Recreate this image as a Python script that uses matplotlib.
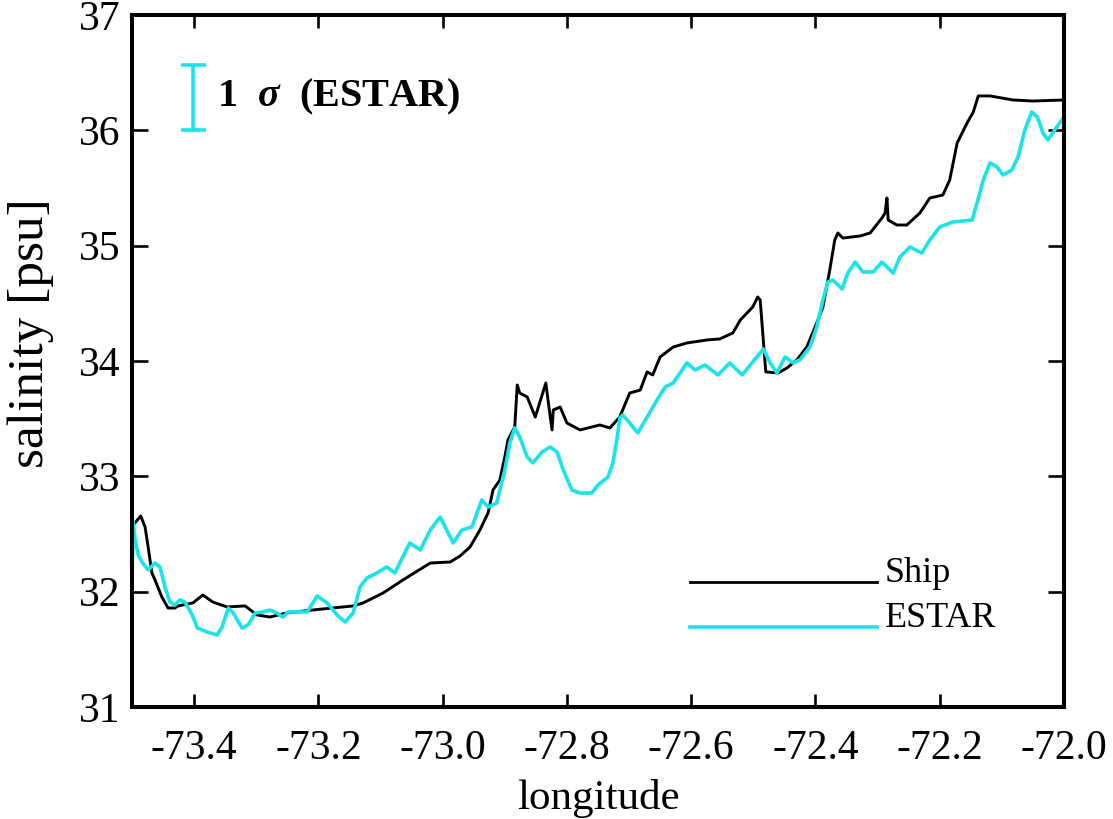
import numpy as np
import matplotlib
matplotlib.use("Agg")
import matplotlib.pyplot as plt

plt.rcParams['font.family'] = ['Liberation Serif', 'DejaVu Serif']
plt.rcParams['axes.unicode_minus'] = False
plt.rcParams['mathtext.fontset'] = 'custom'
plt.rcParams['mathtext.it'] = 'Liberation Serif:italic:bold'
plt.rcParams['mathtext.rm'] = 'Liberation Serif:bold'

# ship thermosalinograph track
ship_lon = [-73.498, -73.486, -73.479, -73.474, -73.468, -73.463, -73.452, -73.442,
            -73.431, -73.426, -73.402, -73.386, -73.370, -73.347, -73.318, -73.299,
            -73.278, -73.251, -73.209, -73.144, -73.128, -73.096, -73.064, -73.020,
            -72.988, -72.972, -72.956, -72.940, -72.927, -72.919, -72.908, -72.900,
            -72.895, -72.884, -72.880, -72.876, -72.864, -72.851, -72.839, -72.834,
            -72.829, -72.824, -72.822, -72.811, -72.800, -72.779, -72.747, -72.731,
            -72.715, -72.699, -72.682, -72.671, -72.662, -72.650, -72.629, -72.607,
            -72.575, -72.554, -72.533, -72.521, -72.501, -72.493, -72.489, -72.480,
            -72.460, -72.446, -72.430, -72.414, -72.398, -72.388, -72.377, -72.369,
            -72.364, -72.356, -72.328, -72.312, -72.293, -72.288, -72.285, -72.283,
            -72.269, -72.253, -72.232, -72.216, -72.195, -72.184, -72.172, -72.156,
            -72.146, -72.138, -72.119, -72.082, -72.050, -72.000]
ship_sal = [32.578, 32.656, 32.561, 32.387, 32.162, 32.101, 31.954, 31.858,
            31.858, 31.876, 31.902, 31.971, 31.910, 31.867, 31.876, 31.798,
            31.780, 31.815, 31.841, 31.876, 31.902, 31.988, 32.101, 32.248,
            32.257, 32.309, 32.387, 32.535, 32.682, 32.881, 32.968, 33.168,
            33.315, 33.428, 33.792, 33.722, 33.688, 33.514, 33.722, 33.809,
            33.601, 33.402, 33.575, 33.601, 33.462, 33.402, 33.445, 33.419,
            33.514, 33.722, 33.748, 33.905, 33.879, 34.035, 34.121, 34.156,
            34.182, 34.191, 34.243, 34.355, 34.468, 34.555, 34.529, 33.905,
            33.896, 33.939, 34.009, 34.121, 34.329, 34.468, 34.789, 35.049,
            35.110, 35.066, 35.084, 35.110, 35.240, 35.283, 35.413, 35.222,
            35.179, 35.179, 35.283, 35.413, 35.439, 35.569, 35.890, 36.064,
            36.159, 36.298, 36.298, 36.263, 36.254, 36.263]

# ESTAR retrieval along the same track
estar_lon = [-73.500, -73.498, -73.495, -73.490, -73.484, -73.474, -73.463, -73.455,
             -73.447, -73.439, -73.431, -73.423, -73.415, -73.403, -73.395, -73.379,
             -73.363, -73.355, -73.345, -73.337, -73.323, -73.313, -73.302, -73.289,
             -73.278, -73.267, -73.257, -73.249, -73.218, -73.202, -73.186, -73.170,
             -73.157, -73.144, -73.133, -73.122, -73.106, -73.090, -73.077, -73.053,
             -73.036, -73.020, -73.004, -72.983, -72.969, -72.953, -72.937, -72.927,
             -72.913, -72.900, -72.892, -72.884, -72.876, -72.864, -72.855, -72.840,
             -72.827, -72.816, -72.806, -72.792, -72.779, -72.760, -72.750, -72.734,
             -72.726, -72.719, -72.715, -72.710, -72.699, -72.686, -72.671, -72.655,
             -72.642, -72.629, -72.607, -72.594, -72.578, -72.557, -72.538, -72.518,
             -72.501, -72.484, -72.473, -72.462, -72.449, -72.436, -72.425, -72.409,
             -72.398, -72.388, -72.380, -72.372, -72.357, -72.348, -72.336, -72.324,
             -72.307, -72.293, -72.285, -72.275, -72.264, -72.248, -72.229, -72.216,
             -72.200, -72.179, -72.148, -72.140, -72.130, -72.119, -72.108, -72.098,
             -72.084, -72.074, -72.063, -72.052, -72.043, -72.034, -72.026, -72.015,
             -72.000]
estar_sal = [32.101, 32.604, 32.448, 32.318, 32.257, 32.188, 32.248, 32.214,
             32.040, 31.910, 31.884, 31.928, 31.910, 31.798, 31.685, 31.650,
             31.624, 31.694, 31.858, 31.815, 31.685, 31.711, 31.815, 31.824,
             31.841, 31.815, 31.780, 31.824, 31.824, 31.962, 31.902, 31.798,
             31.737, 31.815, 32.040, 32.118, 32.162, 32.214, 32.162, 32.422,
             32.361, 32.535, 32.647, 32.422, 32.535, 32.561, 32.795, 32.734,
             32.769, 33.055, 33.289, 33.419, 33.341, 33.168, 33.116, 33.211,
             33.254, 33.211, 33.055, 32.881, 32.855, 32.855, 32.925, 32.994,
             33.116, 33.341, 33.506, 33.532, 33.462, 33.376, 33.514, 33.662,
             33.774, 33.809, 33.983, 33.922, 33.965, 33.879, 33.983, 33.879,
             33.991, 34.104, 33.983, 33.896, 34.035, 33.983, 34.009, 34.121,
             34.295, 34.529, 34.685, 34.702, 34.624, 34.763, 34.858, 34.772,
             34.772, 34.858, 34.815, 34.763, 34.902, 34.988, 34.936, 35.049,
             35.162, 35.205, 35.222, 35.370, 35.569, 35.717, 35.682, 35.613,
             35.656, 35.769, 36.003, 36.159, 36.116, 35.977, 35.916, 36.003,
             36.116]

x_ticks = [-73.4, -73.2, -73.0, -72.8, -72.6, -72.4, -72.2, -72.0]
y_ticks = [31, 32, 33, 34, 35, 36, 37]

cyan = '#1ae4e8'

fig = plt.figure(figsize=(11.13, 8.19), dpi=100)
ax = fig.add_axes([0.1186, 0.1368, 0.8374, 0.8449])

ax.plot(ship_lon, ship_sal, color='black', lw=2.1)
ax.plot(estar_lon, estar_sal, color=cyan, lw=2.6)

ax.set_xlim(-73.5, -72.0)
ax.set_ylim(31, 37)
ax.set_xticks(x_ticks)
ax.set_xticklabels([f"{v:.1f}" for v in x_ticks])
ax.set_yticks(y_ticks)
ax.set_yticklabels([str(v) for v in y_ticks])

for s in ax.spines.values():
    s.set_linewidth(2.9)
ax.tick_params(axis='both', direction='in', top=True, right=True, width=1.9,
               labelsize=30)
ax.tick_params(axis='x', length=9.5, pad=16)
ax.tick_params(axis='y', length=11.5, pad=8)

ax.set_xlabel('longitude', fontsize=31, labelpad=8)
ax.set_ylabel('salinity [psu]', fontsize=37)
ax.yaxis.set_label_coords(-0.084, 0.54)

# 1-sigma bar in the upper-left corner
ax.errorbar([0.0655], [0.881], yerr=[0.047], transform=ax.transAxes,
            color=cyan, lw=2.6, capsize=9, capthick=2.6)
ax.text(0.091, 0.881, r"1  $\sigma$  (ESTAR)", transform=ax.transAxes,
        fontsize=29, fontweight='bold', va='center', ha='left')

# line key, lower right
ax.plot([0.599, 0.799], [0.180, 0.180], transform=ax.transAxes,
        color='black', lw=2.0)
ax.plot([0.599, 0.799], [0.115, 0.115], transform=ax.transAxes,
        color=cyan, lw=2.6)
ax.text(0.808, 0.180, 'Ship', transform=ax.transAxes, fontsize=26,
        va='baseline', ha='left')
ax.text(0.808, 0.115, 'ESTAR', transform=ax.transAxes, fontsize=26,
        va='baseline', ha='left')

fig.savefig('out.png', dpi=100)
